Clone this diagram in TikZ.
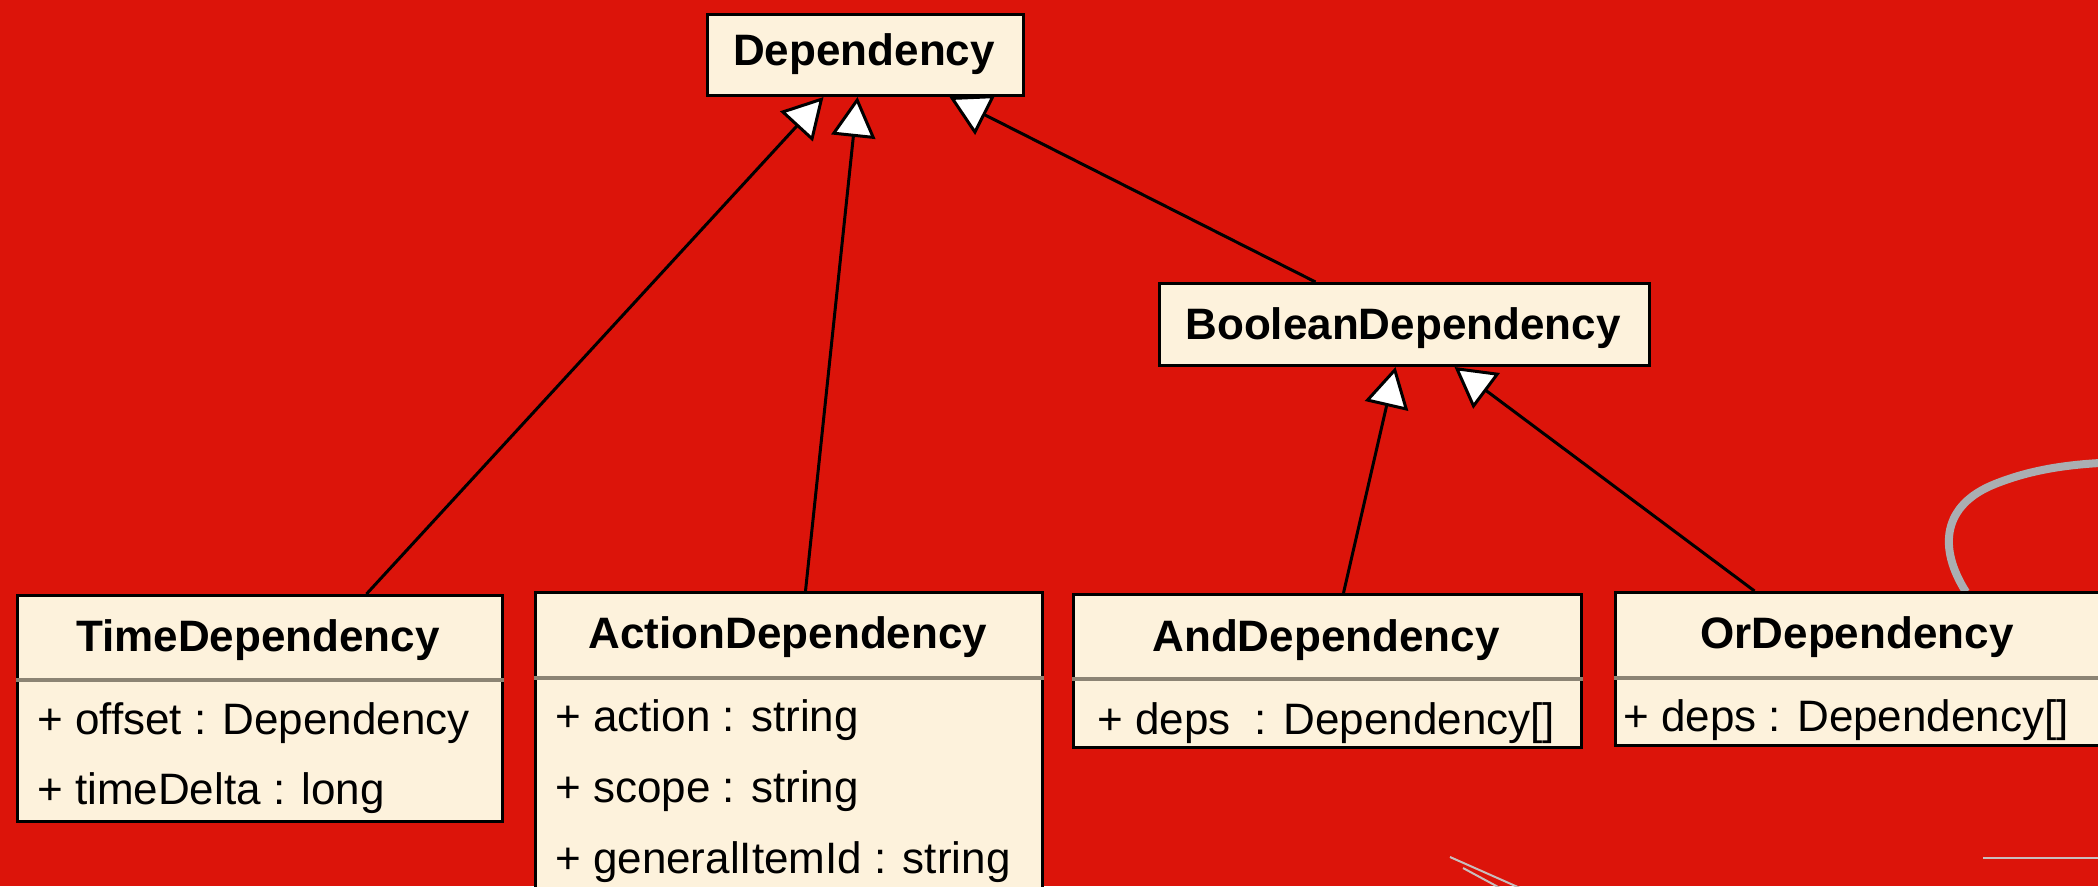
\documentclass[tikz,border=0pt]{standalone}
\usepackage{fontspec}
\setmainfont{Liberation Sans}
\usetikzlibrary{arrows.meta}
\definecolor{slide}{RGB}{220,20,10}
\definecolor{classfill}{RGB}{253,242,220}
\definecolor{rulecol}{RGB}{140,132,116}
\definecolor{swoosh}{RGB}{170,174,178}
\definecolor{thinline}{RGB}{200,190,190}
\tikzset{
  classbox/.style={draw=black, line width=3pt, fill=classfill, inner sep=0pt, anchor=north west},
  classname/.style={font=\fontsize{44}{52}\selectfont\bfseries, anchor=base, inner sep=0pt},
  attr/.style={font=\fontsize{44}{52}\selectfont, anchor=base west, inner sep=0pt},
  divider/.style={draw=rulecol, line width=4pt},
  generalization/.style={draw=black, line width=3pt,
    -{Triangle[length=40pt, width=44pt, fill=white, line width=3pt]}},
}
\begin{document}
\begin{tikzpicture}[x=1pt, y=-1pt]
  % slide background
  \useasboundingbox (0,0) rectangle (2098,886);
  \clip (0,0) rectangle (2098,886);
  \fill[slide] (0,0) rectangle (2098,886);

  % decorative strokes of the slide template
  \draw[swoosh, line width=8pt] (1966,592) .. controls (1938,548) and (1942,505) .. (1995,484)
        .. controls (2030,470) and (2065,465) .. (2100,463);
  \draw[thinline, line width=2pt] (1450,857) -- (1520,888);
  \draw[thinline, line width=2pt] (1463,868) -- (1500,888);
  \draw[thinline, line width=2.5pt] (1983,858) -- (2100,858);

  % classes
  \node[classbox, minimum width=316pt, minimum height=81pt] (dep) at (706,13) {};
  \node[classname] (depT) at (864,65) {Dependency};

  \node[classbox, minimum width=490pt, minimum height=82pt] (bool) at (1158,282) {};
  \node[classname] (boolT) at (1403,339) {BooleanDependency};

  \node[classbox, minimum width=485pt, minimum height=226pt] (time) at (16,594) {};
  \draw[divider] (time.west |- 0,680) -- (time.east |- 0,680);
  \node[classname] (timeT) at (258,651) {TimeDependency};
  \node[attr] (timeA1) at (37,734) {+ offset : Dependency};
  \node[attr] (timeA2) at (37,804) {+ timeDelta : long};

  \node[classbox, minimum width=507pt, minimum height=320pt] (action) at (534,591) {};
  \draw[divider] (action.west |- 0,678) -- (action.east |- 0,678);
  \node[classname] (actionT) at (788,648) {ActionDependency};
  \node[attr] (actionA1) at (555,731) {+ action : string};
  \node[attr] (actionA2) at (555,802) {+ scope : string};
  \node[attr] (actionA3) at (555,873) {+ generalItemId : string};

  \node[classbox, minimum width=508pt, minimum height=153pt] (and) at (1072,593) {};
  \draw[divider] (and.west |- 0,679) -- (and.east |- 0,679);
  \node[classname] (andT) at (1326,651) {AndDependency};
  \node[attr] (andA1) at (1097,734) {+ deps\ \ : Dependency[]};

  \node[classbox, minimum width=500pt, minimum height=153pt] (or) at (1614,591) {};
  \draw[divider] (or.west |- 0,678) -- (or.east |- 0,678);
  \node[classname] (orT) at (1857,648) {OrDependency};
  \node[attr] (orA1) at (1623,731) {+ deps : Dependency[]};

  % generalizations
  \draw[generalization] ([xshift=106.5pt]time.north) -- ([xshift=-42pt]dep.south);
  \draw[generalization] ([xshift=16.5pt]action.north) -- ([xshift=-8pt]dep.south);
  \draw[generalization] ([xshift=-89pt]bool.north) -- ([xshift=84pt]dep.south);
  \draw[generalization] ([xshift=16pt]and.north) -- ([xshift=-9pt]bool.south);
  \draw[generalization] ([xshift=-111pt]or.north) -- ([xshift=50pt]bool.south);
\end{tikzpicture}
\end{document}
